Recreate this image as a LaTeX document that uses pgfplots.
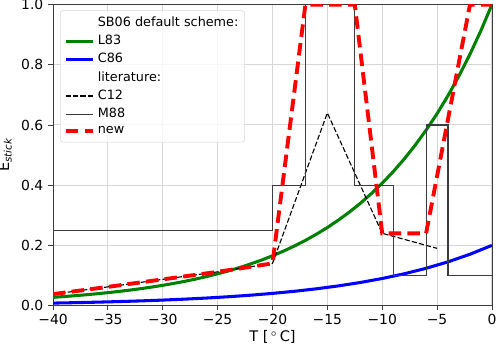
\documentclass[border=0pt]{standalone}
\usepackage{fontspec}
\setmainfont{DejaVu Sans}
\usepackage{pgfplots}
\pgfplotsset{compat=1.18}

\definecolor{gridgray}{RGB}{215,215,215}
\definecolor{framegray}{RGB}{60,60,60}
\definecolor{mplgreen}{RGB}{0,128,0}

\begin{document}
\begin{tikzpicture}
\useasboundingbox (-38.2pt,-30.5pt) rectangle (321.8pt,220pt);
\begin{axis}[
  scale only axis,
  width=316pt, height=216.7pt,
  xmin=-40, xmax=0, ymin=0, ymax=1,
  xtick={-40,-35,-30,-25,-20,-15,-10,-5,0},
  xticklabels={−40,−35,−30,−25,−20,−15,−10,−5,0},
  ytick={0,0.2,0.4,0.6,0.8,1},
  yticklabels={0.0,0.2,0.4,0.6,0.8,1.0},
  tick align=outside, tick pos=left,
  major tick length=3.5pt,
  every tick/.style={framegray, line width=0.6pt},
  axis line style={framegray, line width=0.6pt},
  grid=major,
  major grid style={gridgray, line width=0.7pt},
  ticklabel style={font=\fontsize{10}{12}\selectfont},
  xticklabel style={inner sep=2.5pt},
  xlabel={T [\,$^\circ$\,C]},
  ylabel={E\textsubscript{\itshape stick}},
  label style={font=\fontsize{10.5}{12}\selectfont},
  xlabel style={inner sep=0pt, yshift=-1.5pt},
  legend style={at={(0.016,0.981)}, anchor=north west,
    font=\fontsize{9.2}{11}\selectfont,
    draw=black!15, rounded corners=2pt,
    fill=white, fill opacity=0.8, text opacity=1, draw opacity=1,
    row sep=0.8pt, inner sep=2.5pt},
  legend cell align=left,
  legend image code/.code={\draw[#1] (0pt,0pt) -- (19.7pt,0pt);},
]

\addlegendimage{empty legend}
\addlegendentry{SB06 default scheme:}

% L83
\addplot[mplgreen, line width=2.2pt] coordinates {
  (-40,0.027324) (-39,0.029897) (-38,0.032712) (-37,0.035793) (-36,0.039164)
  (-35,0.042852) (-34,0.046888) (-33,0.051303) (-32,0.056135) (-31,0.061421)
  (-30,0.067206) (-29,0.073535) (-28,0.080460) (-27,0.088037) (-26,0.096328)
  (-25,0.105399) (-24,0.115325) (-23,0.126186) (-22,0.138069) (-21,0.151072)
  (-20,0.165299) (-19,0.180866) (-18,0.197899) (-17,0.216536) (-16,0.236928)
  (-15,0.259240) (-14,0.283654) (-13,0.310367) (-12,0.339596) (-11,0.371577)
  (-10,0.406570) (-9,0.444858) (-8,0.486752) (-7,0.532592) (-6,0.582748)
  (-5,0.637628) (-4,0.697676) (-3,0.763379) (-2,0.835270) (-1,0.913931)
  (0,1.0)
};
\addlegendentry{L83}

% C86
\addplot[blue, line width=2.2pt] coordinates {
  (-40,0.008152) (-38,0.009567) (-36,0.011227) (-34,0.013175) (-32,0.015461)
  (-30,0.018144) (-28,0.021292) (-26,0.024986) (-24,0.029322) (-22,0.034409)
  (-20,0.040379) (-18,0.047386) (-16,0.055608) (-14,0.065256) (-12,0.076579)
  (-10,0.089866) (-8,0.105459) (-6,0.123757) (-4,0.145230) (-2,0.170429)
  (0,0.2)
};
\addlegendentry{C86}

\addlegendimage{empty legend}
\addlegendentry{literature:}

% C12
\addplot[black, line width=0.8pt, dash pattern=on 3.7pt off 1.6pt] coordinates {
  (-40,0.038) (-35,0.062) (-30,0.087) (-25,0.112) (-20,0.14)
  (-15,0.64) (-10,0.24) (-5,0.19)
};
\addlegendentry{C12}

% M88
\addplot[framegray, line width=0.8pt] coordinates {
  (-40,0.25) (-20,0.25) (-20,0.4) (-17,0.4) (-17,1.0) (-12.5,1.0)
  (-12.5,0.4) (-9,0.4) (-9,0.1) (-6,0.1) (-6,0.6) (-4,0.6) (-4,0.1) (0,0.1)
};
\addlegendentry{M88}

% new
\addplot[red, line width=2.8pt, dash pattern=on 9pt off 4.5pt] coordinates {
  (-40,0.038) (-35,0.062) (-30,0.087) (-25,0.112) (-20,0.14)
  (-17,1.0) (-12.5,1.0) (-10,0.24) (-6,0.24) (-2,1.0) (0,1.0)
};
\addlegendentry{new}

\end{axis}
\end{tikzpicture}
\end{document}
